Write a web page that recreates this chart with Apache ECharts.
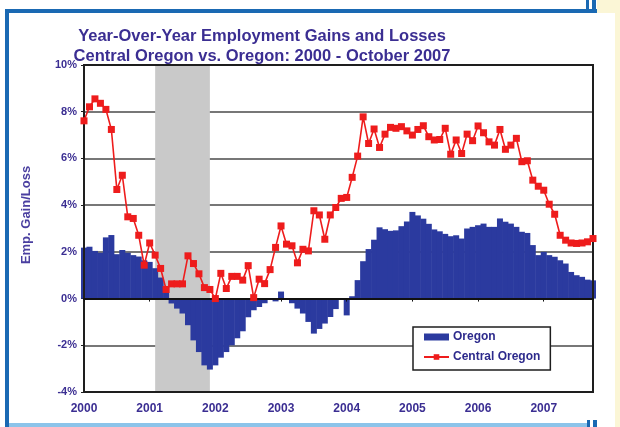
<!DOCTYPE html>
<html>
<head>
<meta charset="utf-8">
<style>
  html, body { margin: 0; padding: 0; background: #ffffff; }
  #chart { width: 620px; height: 427px; }
</style>
<script src="https://cdn.jsdelivr.net/npm/echarts@6/dist/echarts.min.js"></script>
</head>
<body>
<div id="chart"></div>
<script>
// Year-over-year employment change, monthly, Jan 2000 - Oct 2007 (percent)
const years = ['2000', '2001', '2002', '2003', '2004', '2005', '2006', '2007'];
const lastMonth = 10; // October 2007

const oregon = [
  2.18, 2.22, 2.04, 1.96, 2.62, 2.72, 1.90, 2.08, 1.96, 1.86, 1.80, 1.64,
  1.57, 1.30, 0.90, 0.45, -0.21, -0.43, -0.64, -1.14, -1.79, -2.29, -2.86, -3.04,
  -2.86, -2.53, -2.29, -2.00, -1.70, -1.40, -0.80, -0.50, -0.36, -0.20, -0.05, -0.12,
  0.30, -0.05, -0.20, -0.43, -0.64, -1.00, -1.50, -1.30, -1.07, -0.79, -0.45, 0.00,
  -0.72, 0.10, 0.79, 1.60, 2.12, 2.52, 3.05, 2.97, 2.90, 2.92, 3.10, 3.30,
  3.71, 3.56, 3.42, 3.20, 2.96, 2.88, 2.77, 2.67, 2.71, 2.57, 3.00, 3.07,
  3.14, 3.21, 3.07, 3.07, 3.43, 3.29, 3.21, 3.07, 2.86, 2.81, 2.29, 1.86,
  2.00, 1.86, 1.79, 1.64, 1.50, 1.14, 1.00, 0.93, 0.81, 0.78
];

const centralOregon = [
  7.61, 8.21, 8.55, 8.36, 8.10, 7.24, 4.67, 5.28, 3.50, 3.43, 2.71, 1.43,
  2.38, 1.86, 1.29, 0.39, 0.63, 0.63, 0.63, 1.83, 1.50, 1.06, 0.47, 0.39,
  0.00, 1.08, 0.43, 0.95, 0.95, 0.79, 1.41, 0.04, 0.83, 0.64, 1.24, 2.19,
  3.11, 2.33, 2.26, 1.53, 2.11, 2.04, 3.76, 3.58, 2.54, 3.58, 3.90, 4.29,
  4.33, 5.19, 6.10, 7.78, 6.64, 7.26, 6.47, 7.04, 7.33, 7.29, 7.36, 7.18,
  7.00, 7.24, 7.40, 6.93, 6.79, 6.81, 7.29, 6.18, 6.79, 6.21, 7.04, 6.76,
  7.39, 7.10, 6.71, 6.57, 7.24, 6.39, 6.57, 6.86, 5.86, 5.90, 5.07, 4.81,
  4.64, 4.04, 3.61, 2.71, 2.50, 2.38, 2.36, 2.38, 2.43, 2.57
];

// 2001 recession period (shaded)
const recession = ['2001-02', '2001-12'];

// Value axis range (percent)
const yMin = -4, yMax = 10, yStep = 2;

// Monthly category labels, e.g. "2003-07"
const months = [];
years.forEach(function (y, yi) {
  const count = yi === years.length - 1 ? lastMonth : 12;
  for (let m = 1; m <= count; m++) months.push(y + '-' + String(m).padStart(2, '0'));
});

const ink = '#3b2e92';
const labelFont = 'Liberation Sans, Arial, sans-serif';
const isYearStart = function (idx) { return idx % 12 === 0; };

const chart = echarts.init(document.getElementById('chart'), null, { renderer: 'canvas' });

chart.setOption({
  backgroundColor: '#ffffff',
  animation: false,
  title: {
    text: 'Year-Over-Year Employment Gains and Losses\nCentral Oregon vs. Oregon: 2000 - October 2007',
    left: 257,
    top: 21,
    textAlign: 'center',
    textStyle: {
      fontFamily: labelFont,
      fontWeight: 'bold',
      fontSize: 16.5,
      lineHeight: 20,
      color: ink
    }
  },
  grid: {
    left: 84, right: 27, top: 65, bottom: 35,
    show: true,
    borderColor: '#1e1e1e',
    borderWidth: 2,
    z: 3
  },
  legend: {
    orient: 'vertical',
    left: 413,
    top: 327,
    padding: [3, 10, 6, 10],
    itemGap: 6,
    itemWidth: 25,
    itemHeight: 7,
    backgroundColor: '#ffffff',
    borderColor: '#1e1e1e',
    borderWidth: 1.5,
    textStyle: {
      fontFamily: labelFont, fontWeight: 'bold', fontSize: 12,
      lineHeight: 14, color: '#2d2a8c', padding: [0, 0, 0, -1]
    },
    data: [
      { name: 'Oregon', icon: 'rect' },
      { name: 'Central Oregon' }
    ]
  },
  xAxis: [
    {
      type: 'category',
      data: months,
      boundaryGap: false,
      position: 'bottom',
      axisLine: { show: false, onZero: false },
      axisTick: { show: false },
      splitLine: { show: false },
      axisLabel: {
        interval: isYearStart,
        formatter: function (v) { return v.slice(0, 4); },
        fontFamily: labelFont, fontWeight: 'bold', fontSize: 12,
        color: ink, margin: 11
      }
    },
    {
      // zero baseline with year ticks
      type: 'category',
      data: months,
      boundaryGap: false,
      position: 'bottom',
      z: 3,
      axisLine: { show: true, onZero: true, lineStyle: { color: '#111', width: 2 } },
      axisTick: { show: true, interval: isYearStart, length: 3, lineStyle: { color: '#111', width: 1 } },
      axisLabel: { show: false },
      splitLine: { show: false }
    }
  ],
  yAxis: {
    type: 'value',
    min: yMin, max: yMax, interval: yStep,
    axisLine: { show: true, lineStyle: { color: '#1e1e1e', width: 2 } },
    axisTick: { show: true, length: 3, lineStyle: { color: '#1e1e1e', width: 1 } },
    axisLabel: {
      formatter: '{value}%',
      fontFamily: labelFont, fontWeight: 'bold', fontSize: 11,
      color: ink, margin: 7
    },
    splitLine: { show: true, lineStyle: { color: '#4a4a4a', width: 1.5 } }
  },
  series: [
    {
      // shaded recession band, full plot height
      name: 'Recession',
      type: 'custom',
      xAxisIndex: 0,
      silent: true,
      z: 1,
      clip: true,
      encode: { x: [0, 1] },
      data: [[months.indexOf(recession[0]), months.indexOf(recession[1])]],
      renderItem: function (params, api) {
        const p0 = api.coord([api.value(0), yMax]);
        const p1 = api.coord([api.value(1), yMin]);
        return {
          type: 'rect',
          shape: { x: p0[0], y: p0[1], width: p1[0] - p0[0], height: p1[1] - p0[1] },
          style: { fill: '#c9c9c9' }
        };
      }
    },
    {
      name: 'Oregon',
      type: 'bar',
      xAxisIndex: 0,
      data: oregon,
      barWidth: 6,
      clip: true,
      itemStyle: { color: '#2b3a9f' },
      z: 2
    },
    {
      name: 'Central Oregon',
      type: 'line',
      xAxisIndex: 0,
      data: centralOregon,
      clip: false,
      showSymbol: true,
      showAllSymbol: true,
      symbol: 'rect',
      symbolSize: 7,
      lineStyle: { color: '#ee1c1c', width: 1.6 },
      itemStyle: { color: '#ee1c1c' },
      z: 4
    }
  ],
  graphic: [
    // page frame
    { type: 'rect', shape: { x: 597, y: 0, width: 23, height: 13 }, style: { fill: '#fbf6d6' }, silent: true },
    { type: 'rect', shape: { x: 615, y: 13, width: 5, height: 414 }, style: { fill: '#fbf6d6' }, silent: true },
    { type: 'rect', shape: { x: 5, y: 9, width: 592, height: 4 }, style: { fill: '#1a69b3' }, silent: true },
    { type: 'rect', shape: { x: 5, y: 9, width: 4, height: 418 }, style: { fill: '#1a69b3' }, silent: true },
    { type: 'rect', shape: { x: 586, y: 0, width: 3, height: 9 }, style: { fill: '#1a69b3' }, silent: true },
    { type: 'rect', shape: { x: 592, y: 0, width: 4, height: 13 }, style: { fill: '#1a69b3' }, silent: true },
    { type: 'rect', shape: { x: 9, y: 423, width: 578, height: 4 }, style: { fill: '#8cc4ea' }, silent: true },
    { type: 'rect', shape: { x: 587, y: 420, width: 3, height: 7 }, style: { fill: '#1a69b3' }, silent: true },
    { type: 'rect', shape: { x: 593, y: 420, width: 4, height: 7 }, style: { fill: '#1a69b3' }, silent: true },
    // vertical axis title
    {
      type: 'text',
      x: 26, y: 215,
      rotation: Math.PI / 2,
      style: {
        text: 'Emp. Gain/Loss',
        fill: '#4a3fa0',
        font: 'bold 13px ' + labelFont,
        textAlign: 'center',
        textVerticalAlign: 'middle'
      },
      silent: true
    }
  ]
});
</script>
</body>
</html>
